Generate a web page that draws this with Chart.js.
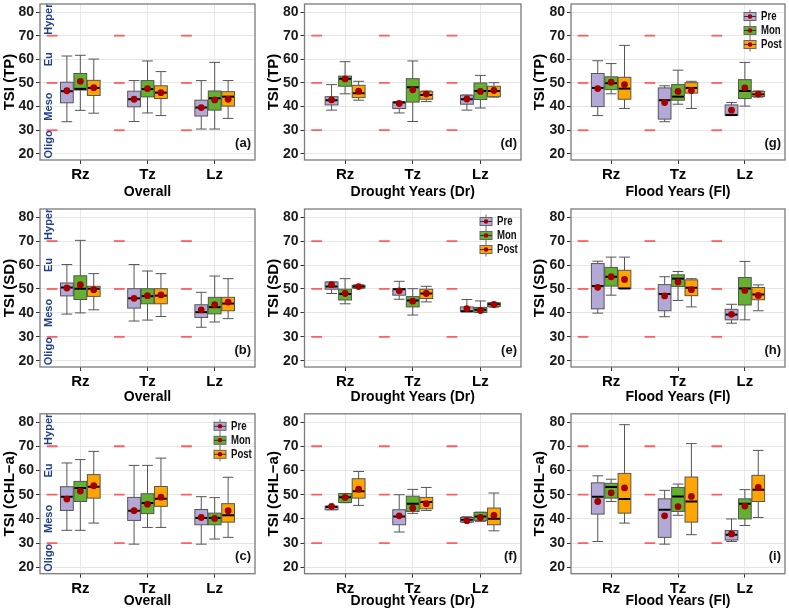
<!DOCTYPE html>
<html>
<head>
<meta charset="utf-8">
<script src="https://cdn.jsdelivr.net/npm/chart.js@4.4.0/dist/chart.umd.min.js"></script>
<style>
  body { margin: 0; background: #fff; }
  #wrap { position: relative; width: 789px; height: 613px; }
  canvas { position: absolute; }
</style>
</head>
<body>
<div id="wrap"></div>
<script>
// categories and tick labels
const zones = ['Rz', 'Tz', 'Lz'];
const seasons = ['Pre', 'Mon', 'Post'];
const yTicks = [20, 30, 40, 50, 60, 70, 80];
const yMinor = [25, 35, 45, 55, 65, 75];
const thresholds = [30, 50, 70];
const trophicNames = ['Oligo', 'Meso', 'Eu', 'Hyper'];
const trophicAt = [24, 40, 60, 77];

// each row: [lower whisker, Q1, median, Q3, upper whisker, mean] for Rz, Tz, Lz
const tpOverallPre  = [[33.6, 41.6, 46.5, 50.3, 61.4, 46.7], [33.7, 39.9, 43.1, 46.5, 51.0, 43.1], [30.5, 36.0, 39.6, 42.7, 51.0, 39.6]];
const tpOverallMon  = [[38.4, 47.0, 47.5, 54.0, 61.7, 50.7], [37.3, 44.1, 47.4, 51.0, 59.3, 47.6], [30.5, 38.5, 43.5, 46.6, 58.7, 42.8]];
const tpOverallPost = [[37.2, 44.7, 47.9, 51.1, 60.1, 48.0], [36.2, 43.4, 45.9, 48.8, 54.8, 45.9], [35.0, 40.2, 44.2, 46.3, 51.0, 43.1]];

const tpDroughtPre  = [[38.5, 40.7, 42.7, 44.2, 49.3, 42.8], [37.3, 39.2, 41.7, 42.0, 42.0, 41.3], [38.5, 41.0, 43.1, 44.8, 44.9, 43.2]];
const tpDroughtMon  = [[45.4, 48.6, 51.8, 52.9, 59.0, 51.7], [33.7, 41.9, 48.2, 51.8, 59.3, 47.1], [39.4, 43.0, 46.6, 50.0, 53.2, 46.4]];
const tpDroughtPost = [[42.7, 43.8, 45.6, 49.0, 50.7, 46.5], [42.1, 43.1, 44.9, 46.3, 46.6, 45.3], [44.0, 44.2, 46.6, 48.6, 50.1, 46.8]];

const tpFloodPre  = [[36.2, 40.0, 47.9, 54.0, 59.4, 47.6], [33.6, 34.7, 42.7, 47.9, 48.8, 41.7], [36.2, 36.2, 36.5, 40.7, 41.7, 38.5]];
const tpFloodMon  = [[45.4, 47.2, 49.9, 52.6, 58.2, 50.3], [41.0, 42.7, 44.2, 49.3, 55.4, 46.4], [40.2, 43.4, 46.6, 51.4, 58.7, 47.9]];
const tpFloodPost = [[39.2, 43.1, 47.6, 52.4, 65.9, 49.3], [39.2, 45.7, 47.9, 50.1, 50.7, 46.8], [44.0, 44.3, 45.2, 46.4, 46.6, 45.3]];

const sdOverallPre  = [[39.5, 47.1, 50.6, 52.5, 60.2, 50.4], [36.6, 42.0, 46.1, 50.1, 60.2, 46.1], [34.0, 38.1, 40.3, 43.4, 48.6, 41.3]];
const sdOverallMon  = [[40.0, 45.6, 50.1, 55.5, 70.3, 51.8], [37.0, 43.8, 47.0, 50.1, 57.5, 47.2], [36.2, 39.6, 42.4, 46.5, 55.4, 43.4]];
const sdOverallPost = [[41.3, 46.9, 50.1, 51.1, 56.4, 49.7], [38.5, 43.8, 47.2, 50.1, 56.4, 47.5], [37.6, 40.9, 43.9, 46.5, 54.3, 44.5]];

const sdDroughtPre  = [[48.1, 49.9, 51.0, 52.9, 52.9, 51.8], [45.7, 47.4, 49.9, 50.1, 53.2, 49.2], [40.5, 40.5, 40.7, 42.5, 45.6, 41.8]];
const sdDroughtMon  = [[43.8, 45.4, 47.9, 49.9, 54.3, 48.1], [39.1, 42.5, 45.2, 46.8, 50.1, 44.9], [40.2, 40.2, 41.3, 42.3, 45.0, 41.0]];
const sdDroughtPost = [[50.3, 50.4, 51.0, 51.5, 51.7, 51.0], [44.6, 46.0, 48.1, 49.9, 51.1, 48.1], [42.4, 42.7, 43.6, 44.2, 44.3, 43.5]];

const sdFloodPre  = [[39.9, 41.7, 51.2, 60.6, 61.6, 50.7], [38.4, 40.9, 47.9, 51.8, 55.1, 47.1], [35.7, 37.1, 39.3, 41.5, 43.6, 39.4]];
const sdFloodMon  = [[47.4, 51.2, 55.1, 59.0, 63.3, 55.1], [45.2, 51.0, 54.3, 55.9, 57.3, 52.9], [37.1, 43.3, 50.2, 54.8, 61.5, 49.4]];
const sdFloodPost = [[50.2, 50.2, 50.2, 57.8, 63.3, 54.0], [42.5, 47.2, 50.5, 53.8, 54.3, 49.7], [40.9, 45.5, 47.7, 50.6, 51.7, 47.3]];

const chlOverallPre  = [[35.3, 43.5, 49.2, 53.3, 63.1, 48.2], [29.6, 39.4, 43.4, 48.9, 62.1, 43.4], [29.6, 37.6, 40.4, 43.9, 49.2, 40.6]];
const chlOverallMon  = [[35.3, 47.2, 52.8, 55.5, 64.5, 51.5], [36.5, 42.2, 46.6, 50.4, 62.1, 46.1], [31.7, 37.6, 40.4, 42.4, 48.8, 40.2]];
const chlOverallPost = [[38.3, 48.6, 53.3, 58.3, 67.9, 53.7], [36.5, 45.2, 48.3, 53.4, 65.1, 49.0], [32.4, 38.7, 41.5, 46.3, 57.2, 43.4]];

const chlDroughtPre  = [[43.8, 43.8, 44.9, 45.3, 45.3, 45.2], [34.6, 37.6, 41.0, 43.8, 50.0, 41.3], [38.6, 38.7, 39.7, 40.6, 40.9, 39.3]];
const chlDroughtMon  = [[46.7, 46.8, 49.0, 50.5, 50.5, 48.9], [42.3, 43.1, 46.3, 49.4, 52.2, 44.5], [39.0, 39.3, 41.0, 42.7, 42.8, 40.6]];
const chlDroughtPost = [[45.6, 48.6, 51.4, 56.6, 59.6, 52.3], [43.5, 44.2, 47.0, 48.9, 53.0, 46.3], [35.1, 37.6, 40.1, 44.5, 50.7, 41.5]];

const chlFloodPre  = [[30.7, 42.0, 49.2, 54.9, 57.8, 47.2], [29.6, 32.4, 43.8, 48.3, 51.8, 41.3], [30.7, 31.3, 33.5, 35.2, 40.0, 33.8]];
const chlFloodMon  = [[47.2, 48.6, 53.2, 54.7, 56.4, 50.8], [41.5, 43.1, 49.3, 53.0, 54.4, 45.1], [37.3, 40.0, 46.3, 48.3, 52.1, 45.3]];
const chlFloodPost = [[38.3, 42.4, 48.2, 58.8, 78.9, 52.8], [33.5, 38.7, 47.2, 57.3, 71.1, 49.3], [40.6, 47.2, 52.1, 58.0, 68.3, 53.0]];

const fillColors = ['#B4A9D6', '#62B22F', '#FFA500'];
const dodge = [-0.2, 0, 0.2];
const FONT = "'Liberation Sans', Arial, sans-serif";

// column / row geometry of the 3x3 grid
const cols = [
  { x: 0,   w: 263, yw: 40,   pr: 8,   tp: 1 },
  { x: 263, w: 263, yw: 41.5, pr: 5,   tp: 2 },
  { x: 526, w: 263, yw: 45,   pr: 2.3, tp: 5 }
];
const rows = [
  { y: 0,   h: 205, pt: 1,   xh: 45,   tb: 4 },
  { y: 205, h: 203, pt: 2.8, xh: 41,   tb: 2 },
  { y: 408, h: 205, pt: 5.8, xh: 39.3, tb: 3 }
];

const panels = [
  { r: 0, c: 0, series: [tpOverallPre, tpOverallMon, tpOverallPost], yTitle: 'TSI (TP)', xTitle: 'Overall', tag: '(a)', trophic: true },
  { r: 0, c: 1, series: [tpDroughtPre, tpDroughtMon, tpDroughtPost], yTitle: 'TSI (TP)', xTitle: 'Drought Years (Dr)', tag: '(d)' },
  { r: 0, c: 2, series: [tpFloodPre, tpFloodMon, tpFloodPost], yTitle: 'TSI (TP)', xTitle: 'Flood Years (Fl)', tag: '(g)', legend: true },
  { r: 1, c: 0, series: [sdOverallPre, sdOverallMon, sdOverallPost], yTitle: 'TSI (SD)', xTitle: 'Overall', tag: '(b)', trophic: true },
  { r: 1, c: 1, series: [sdDroughtPre, sdDroughtMon, sdDroughtPost], yTitle: 'TSI (SD)', xTitle: 'Drought Years (Dr)', tag: '(e)', legend: true },
  { r: 1, c: 2, series: [sdFloodPre, sdFloodMon, sdFloodPost], yTitle: 'TSI (SD)', xTitle: 'Flood Years (Fl)', tag: '(h)' },
  { r: 2, c: 0, series: [chlOverallPre, chlOverallMon, chlOverallPost], yTitle: 'TSI (CHL\u2212a)', xTitle: 'Overall', tag: '(c)', trophic: true, legend: true },
  { r: 2, c: 1, series: [chlDroughtPre, chlDroughtMon, chlDroughtPost], yTitle: 'TSI (CHL\u2212a)', xTitle: 'Drought Years (Dr)', tag: '(f)' },
  { r: 2, c: 2, series: [chlFloodPre, chlFloodMon, chlFloodPost], yTitle: 'TSI (CHL\u2212a)', xTitle: 'Flood Years (Fl)', tag: '(i)' }
];

function line(ctx, x1, y1, x2, y2) {
  ctx.beginPath();
  ctx.moveTo(x1, y1);
  ctx.lineTo(x2, y2);
  ctx.stroke();
}

// boxes, whiskers, medians and threshold dashes, drawn under the mean points
const boxPlugin = {
  id: 'boxes',
  beforeDatasetsDraw(chart) {
    const p = chart.options.plugins.boxes.panel;
    const { ctx, chartArea: a, scales: { x, y } } = chart;
    ctx.save();
    ctx.beginPath();
    ctx.rect(a.left, a.top, a.right - a.left, a.bottom - a.top);
    ctx.clip();

    ctx.strokeStyle = '#FF5E5E';
    ctx.lineWidth = 1.8;
    zones.forEach((z, i) => {
      thresholds.forEach(t => {
        const py = y.getPixelForValue(t);
        line(ctx, x.getPixelForValue(i + 0.5), py, x.getPixelForValue(i + 0.66), py);
      });
    });

    p.series.forEach((ser, s) => {
      ser.forEach((v, i) => {
        const c = i + 1 + dodge[s];
        const xc = x.getPixelForValue(c);
        const xl = x.getPixelForValue(c - 0.095), xr = x.getPixelForValue(c + 0.095);
        const cl = x.getPixelForValue(c - 0.08), cr = x.getPixelForValue(c + 0.08);
        const [lo, q1, md, q3, hi] = v.slice(0, 5).map(val => y.getPixelForValue(val));
        ctx.strokeStyle = '#555';
        ctx.lineWidth = 1;
        line(ctx, xc, q3, xc, hi);
        line(ctx, xc, q1, xc, lo);
        line(ctx, cl, hi, cr, hi);
        line(ctx, cl, lo, cr, lo);
        ctx.fillStyle = fillColors[s];
        ctx.fillRect(xl, q3, xr - xl, q1 - q3);
        ctx.strokeRect(xl, q3, xr - xl, q1 - q3);
        ctx.strokeStyle = '#000';
        ctx.lineWidth = 2;
        line(ctx, xl + 0.5, md, xr - 0.5, md);
      });
    });
    ctx.restore();
  },
  afterDatasetsDraw(chart) {
    const p = chart.options.plugins.boxes.panel;
    const { ctx, chartArea: a, scales: { x, y } } = chart;
    ctx.save();

    if (p.trophic) {
      ctx.fillStyle = '#22408A';
      ctx.font = 'bold 11px ' + FONT;
      ctx.textAlign = 'center';
      ctx.textBaseline = 'middle';
      trophicNames.forEach((n, k) => {
        ctx.save();
        ctx.translate(x.getPixelForValue(0.54), y.getPixelForValue(trophicAt[k]));
        ctx.rotate(-Math.PI / 2);
        ctx.fillText(n, 0, 0);
        ctx.restore();
      });
    }

    ctx.fillStyle = '#111';
    ctx.font = 'bold 13px ' + FONT;
    ctx.textAlign = 'right';
    ctx.textBaseline = 'middle';
    ctx.fillText(p.tag, a.right - 4, y.getPixelForValue(24.4));

    if (p.legend) {
      seasons.forEach((name, s) => {
        const kx = a.right - 35, ky = a.top + 12.5 + s * 14;
        ctx.strokeStyle = '#666';
        ctx.lineWidth = 1;
        line(ctx, kx, ky - 7, kx, ky + 7);
        ctx.fillStyle = fillColors[s];
        ctx.fillRect(kx - 6, ky - 4, 12, 8);
        ctx.strokeRect(kx - 6, ky - 4, 12, 8);
        ctx.strokeStyle = '#333';
        line(ctx, kx - 6, ky, kx + 6, ky);
        ctx.fillStyle = '#A50000';
        ctx.beginPath();
        ctx.arc(kx, ky, 2.3, 0, Math.PI * 2);
        ctx.fill();
        // legend text, squeezed a little horizontally like the original
        ctx.save();
        ctx.translate(a.right - 24, ky);
        ctx.scale(0.8, 1);
        ctx.fillStyle = '#111';
        ctx.font = 'bold 12px ' + FONT;
        ctx.textAlign = 'left';
        ctx.fillText(name, 0, 0);
        ctx.restore();
      });
    }

    ctx.strokeStyle = '#7A7A7A';
    ctx.lineWidth = 1.3;
    ctx.strokeRect(a.left, a.top, a.right - a.left, a.bottom - a.top);
    ctx.restore();
  }
};

function noPadding(scale) {
  scale.paddingTop = 0;
  scale.paddingBottom = 0;
  scale.paddingLeft = 0;
  scale.paddingRight = 0;
}

const wrap = document.getElementById('wrap');

panels.forEach(p => {
  const col = cols[p.c], row = rows[p.r];
  const canvas = document.createElement('canvas');
  canvas.width = col.w;
  canvas.height = row.h;
  canvas.style.left = col.x + 'px';
  canvas.style.top = row.y + 'px';
  canvas.style.width = col.w + 'px';
  canvas.style.height = row.h + 'px';
  wrap.appendChild(canvas);

  const datasets = p.series.map((ser, s) => ({
    label: seasons[s],
    data: ser.map((v, i) => ({ x: i + 1 + dodge[s], y: v[5] })),
    backgroundColor: '#A50000',
    borderWidth: 0,
    pointRadius: 3.4
  }));

  new Chart(canvas, {
    type: 'scatter',
    data: { datasets },
    plugins: [boxPlugin],
    options: {
      responsive: false,
      animation: false,
      events: [],
      layout: { padding: { top: row.pt, right: col.pr, left: 0, bottom: 0 } },
      plugins: {
        legend: { display: false },
        tooltip: { enabled: false },
        boxes: { panel: p }
      },
      scales: {
        x: {
          type: 'linear',
          min: 0.4,
          max: 3.6,
          afterBuildTicks: sc => { sc.ticks = zones.map((z, i) => ({ value: i + 1 })); },
          afterFit: sc => { sc.height = row.xh; noPadding(sc); },
          ticks: {
            callback: v => zones[Math.round(v) - 1],
            color: '#000',
            padding: 2,
            font: { family: FONT, size: 15, weight: 'bold' },
            maxRotation: 0
          },
          grid: { color: '#E8E8E8', tickColor: '#333', tickLength: 4, lineWidth: 1 },
          border: { display: false },
          title: {
            display: true,
            text: p.xTitle,
            color: '#000',
            font: { family: FONT, size: 14, weight: 'bold' },
            padding: { top: 0, bottom: row.tb }
          }
        },
        y: {
          min: 17.4,
          max: 83.4,
          afterBuildTicks: sc => { sc.ticks = yTicks.concat(yMinor).sort((m, n) => m - n).map(v => ({ value: v })); },
          afterFit: sc => { sc.width = col.yw; noPadding(sc); },
          ticks: {
            callback: v => (yTicks.includes(v) ? String(v) : ''),
            color: '#1A1A1A',
            padding: 2,
            font: { family: FONT, size: 14, weight: 'bold' }
          },
          grid: {
            color: c => (yTicks.includes(c.tick.value) ? '#E6E6E6' : '#F3F3F3'),
            tickColor: c => (yTicks.includes(c.tick.value) ? '#333' : 'rgba(0,0,0,0)'),
            tickLength: 4,
            lineWidth: 1
          },
          border: { display: false },
          title: {
            display: true,
            text: p.yTitle,
            color: '#000',
            font: { family: FONT, size: 15, weight: 'bold' },
            padding: { top: col.tp, bottom: 0 }
          }
        }
      }
    }
  });
});
</script>
</body>
</html>
